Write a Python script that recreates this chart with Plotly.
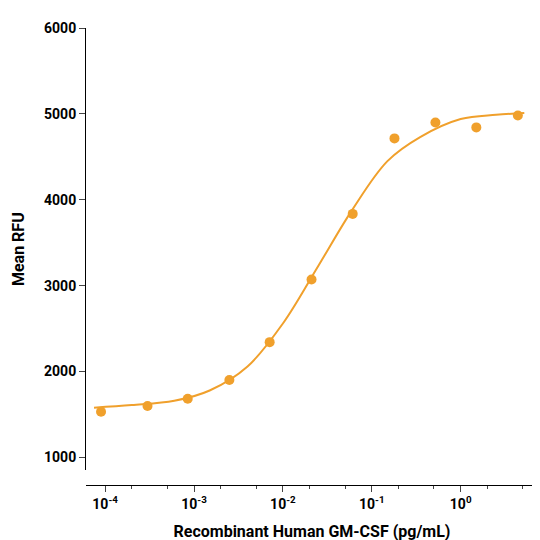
import plotly.graph_objects as go

conc = [9e-5, 3e-4, 8.5e-4, 2.5e-3, 7.1e-3, 2.1e-2, 6.1e-2, 0.18, 0.52, 1.5, 4.4]
rfu = [1532, 1600, 1683, 1903, 2343, 3072, 3836, 4715, 4900, 4843, 4981]

# fitted curve
curve_x = [7.5e-5, 2e-4, 6e-4, 1.5e-3, 4e-3, 1e-2, 2.5e-2, 6e-2, 0.15, 0.35, 1.0, 2.5, 5.2]
curve_y = [1580, 1610, 1660, 1780, 2060, 2560, 3230, 3880, 4450, 4730, 4940, 4990, 5010]

orange = "#f0a02c"
fig = go.Figure()
fig.add_trace(go.Scatter(x=curve_x, y=curve_y, mode="lines", line=dict(color=orange, width=2, shape="spline"), hoverinfo="skip"))
fig.add_trace(go.Scatter(x=conc, y=rfu, mode="markers", marker=dict(color=orange, size=10)))

fig.update_layout(
    width=540, height=540, showlegend=False,
    plot_bgcolor="white", paper_bgcolor="white",
    margin=dict(l=72, r=10, t=20, b=58),
    font=dict(family="Roboto", size=14, color="black"),
    xaxis=dict(type="log", range=[-4.215, 0.87], anchor="free", position=0,
               showline=True, linecolor="black", ticks="outside", ticklen=6,
               tickfont=dict(weight="bold"),
               tickvals=[1e-4, 1e-3, 1e-2, 1e-1, 1], ticktext=["10<sup>-4</sup>", "10<sup>-3</sup>", "10<sup>-2</sup>", "10<sup>-1</sup>", "10<sup>0</sup>"],
               minor=dict(ticks="outside", ticklen=3, showgrid=False),
               showgrid=False, zeroline=False,
               title=dict(text="<b>Recombinant Human GM-CSF (pg/mL)</b>", font=dict(size=16))),
    yaxis=dict(range=[850, 6000], domain=[0.032, 1], dtick=1000,
               showline=True, linecolor="black", ticks="outside", ticklen=6,
               tickfont=dict(weight="bold"),
               showgrid=False, zeroline=False,
               title=dict(text="<b>Mean RFU</b>", font=dict(size=16))),
)
fig.write_html("out.html")
